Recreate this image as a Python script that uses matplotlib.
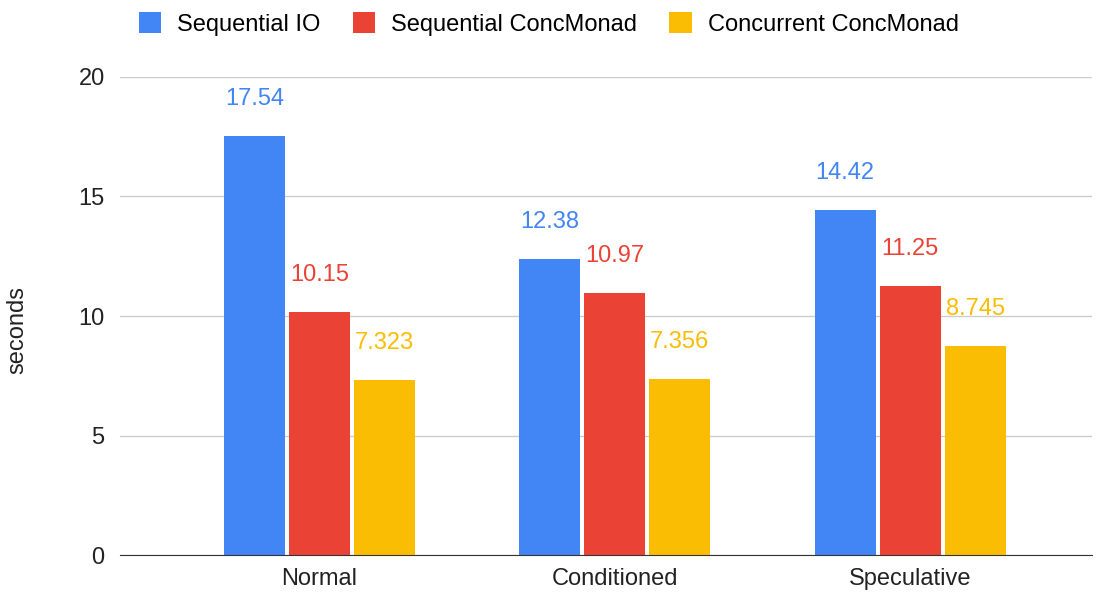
import numpy as np
import matplotlib.pyplot as plt

categories = ['Normal', 'Conditioned', 'Speculative']
series_names = ['Sequential IO', 'Sequential ConcMonad', 'Concurrent ConcMonad']
seq_io = [17.54, 12.38, 14.42]
seq_conc = [10.15, 10.97, 11.25]
conc_conc = [7.323, 7.356, 8.745]
value_labels = [['17.54', '12.38', '14.42'],
                ['10.15', '10.97', '11.25'],
                ['7.323', '7.356', '8.745']]
colors = ['#4285F4', '#EA4335', '#FBBC04']

plt.rcParams['font.family'] = ['Liberation Sans', 'DejaVu Sans']
fs = 17

fig = plt.figure(figsize=(11.06, 5.95), dpi=100)
ax = fig.add_axes([0.1085, 0.0672, 0.8785, 0.8034])

x = np.arange(len(categories))
width = 0.207
step = 0.22
for i, (vals, name, col) in enumerate(zip([seq_io, seq_conc, conc_conc], series_names, colors)):
    pos = x + (i - 1) * step
    ax.bar(pos, vals, width, color=col, label=name, zorder=3)
    for p, v, lab in zip(pos, vals, value_labels[i]):
        ax.annotate(lab, (p, v), xytext=(0, 37), textcoords='offset pixels',
                    ha='center', va='center', color=col, fontsize=fs,
                    annotation_clip=False)

ax.set_xlim(-0.675, 2.614)
ax.set_ylim(0, 20)
ax.set_yticks([0, 5, 10, 15, 20])
ax.set_xticks(x)
ax.set_xticklabels(categories)
ax.tick_params(axis='both', length=0, labelsize=fs, colors='#222222')
ax.tick_params(axis='y', pad=11)
ax.tick_params(axis='x', pad=9)
ax.grid(axis='y', color='#cccccc', linewidth=1, zorder=0)
for s in ['top', 'right', 'left']:
    ax.spines[s].set_visible(False)
ax.spines['bottom'].set_color('#333333')
ax.spines['bottom'].set_zorder(4)
ax.set_ylabel('seconds', fontsize=fs, color='#222222')
ax.yaxis.set_label_coords(-0.094, 0.47)

ax.legend(loc='center left', bbox_to_anchor=(139 / 1106, 1 - 24 / 595),
          bbox_transform=fig.transFigure, ncol=3, frameon=False,
          fontsize=fs, handlelength=0.95, handleheight=0.95, columnspacing=1.35,
          handletextpad=0.68, borderpad=0, borderaxespad=0)

plt.savefig('out.png', dpi=100)
